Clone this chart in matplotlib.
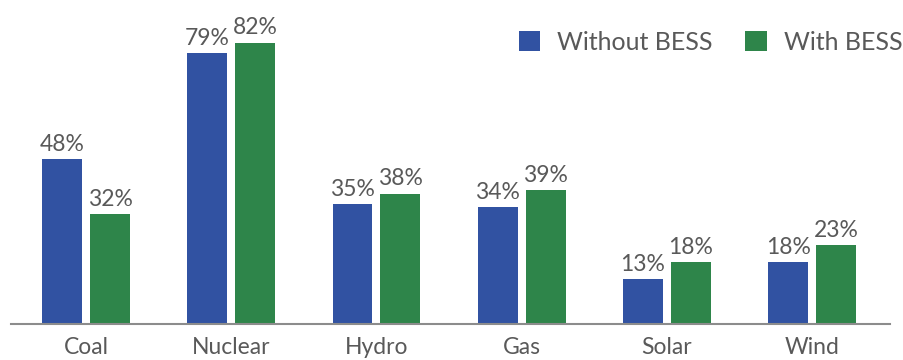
import matplotlib.pyplot as plt
import numpy as np

# capacity factor by source, with/without battery storage
categories = ['Coal', 'Nuclear', 'Hydro', 'Gas', 'Solar', 'Wind']
without_bess = [48, 79, 35, 34, 13, 18]
with_bess = [32, 82, 38, 39, 18, 23]

blue = '#3152A2'
green = '#2E854A'
text_gray = '#595959'

plt.rcParams['font.family'] = ['Lato', 'DejaVu Sans']

fig = plt.figure(figsize=(9.04, 3.60), dpi=100)
ax = fig.add_axes([11 / 904, 0.1, 879 / 904, 0.9])

x = np.arange(len(categories))
w = 0.275
off = 0.165
b1 = ax.bar(x - off, without_bess, w, color=blue, label='Without BESS')
b2 = ax.bar(x + off, with_bess, w, color=green, label='With BESS')

for bars, vals in ((b1, without_bess), (b2, with_bess)):
    for rect, v in zip(bars, vals):
        ax.text(rect.get_x() + rect.get_width() / 2, v + 1.2, f'{v}%',
                ha='center', va='bottom', fontsize=16.5, color=text_gray)

ax.set_xlim(-0.517, 5.537)
ax.set_ylim(0, 94.4)
ax.set_xticks(x)
ax.set_xticklabels(categories, fontsize=16.5, color=text_gray)
ax.tick_params(axis='x', length=0, pad=9)
ax.set_yticks([])
for s in ('top', 'right', 'left'):
    ax.spines[s].set_visible(False)
ax.spines['bottom'].set_color('#8C8C8C')
ax.spines['bottom'].set_linewidth(1.5)

leg = ax.legend(loc='upper right', bbox_to_anchor=(1.04, 0.975), ncol=2, frameon=False,
                fontsize=18, handlelength=0.85, handleheight=0.85,
                handletextpad=0.7, columnspacing=1.3)
for t in leg.get_texts():
    t.set_color(text_gray)

fig.savefig('out.png', dpi=100)
